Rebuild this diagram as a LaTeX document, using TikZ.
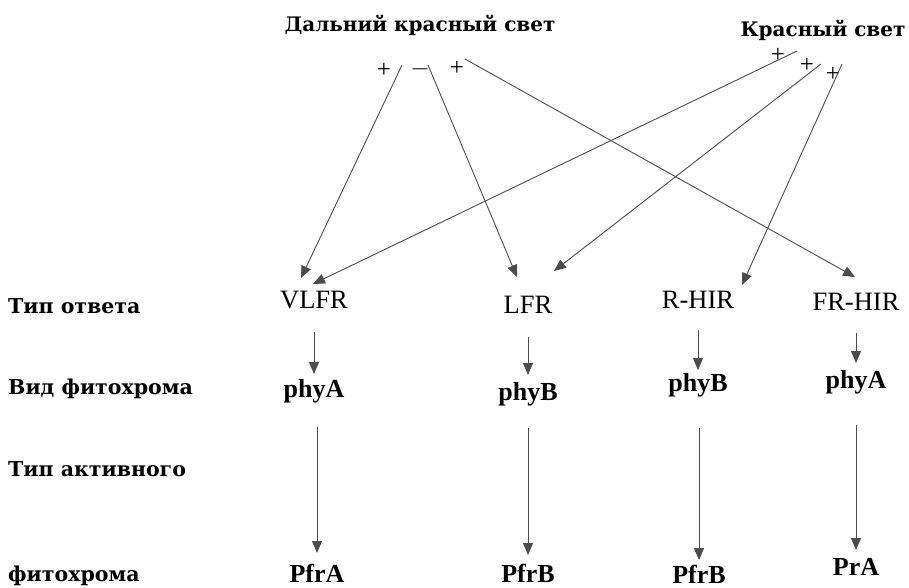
\documentclass[tikz,border=0pt]{standalone}
\usepackage{fontspec}
\setmainfont{Liberation Serif}
\newfontfamily\rufont{DejaVu Serif}
\usetikzlibrary{arrows.meta}

\begin{document}
\begin{tikzpicture}[x=1pt,y=-1pt,
    rowlbl/.style={anchor=base west, inner sep=0pt, font=\rufont\bfseries\fontsize{20.5}{20.5}\selectfont},
    toplbl/.style={anchor=base, inner sep=0pt, font=\rufont\bfseries\fontsize{20}{20}\selectfont},
    resp/.style={anchor=base, inner sep=0pt, font=\fontsize{26.5}{26.5}\selectfont},
    kind/.style={anchor=base, inner sep=0pt, font=\bfseries\fontsize{26}{26}\selectfont},
    sgn/.style={inner sep=0pt, font=\fontsize{25}{25}\selectfont},
    arr/.style={draw=black!70, line width=0.9pt, -{Triangle[length=12pt,width=10pt]}}]
    \useasboundingbox (0,0) rectangle (909,587);

    % light sources
    \node[toplbl] (far) at (420,31) {Дальний красный свет};
    \node[toplbl] (red) at (823,36) {Красный свет};

    % row labels
    \node[rowlbl] (row1) at (8,313) {Тип ответа};
    \node[rowlbl] (row2) at (8,394) {Вид фитохрома};
    \node[rowlbl] (row3) at (8,476) {Тип активного};
    \node[rowlbl] (row4) at (8,581) {фитохрома};

    % response types
    \node[resp] (vlfr) at (314,308) {VLFR};
    \node[resp] (lfr) at (528,313) {LFR};
    \node[resp] (rhir) at (698,308) {R-HIR};
    \node[resp] (frhir) at (856,310) {FR-HIR};

    % phytochromes
    \node[kind] (phyA1) at (314,397) {phyA};
    \node[kind] (phyB2) at (528,400) {phyB};
    \node[kind] (phyB3) at (698,391) {phyB};
    \node[kind] (phyA4) at (856,388) {phyA};

    % active forms
    \node[kind] (pfrA1) at (317,582) {PfrA};
    \node[kind] (pfrB2) at (528,582) {PfrB};
    \node[kind] (pfrB3) at (699,583) {PfrB};
    \node[kind] (prA4) at (856,575) {PrA};

    % signs
    \node[sgn] (s1) at (384,70) {+};
    \node[sgn] (s2) at (420,69) {$-$};
    \node[sgn] (s3) at (457,68) {+};
    \node[sgn] (s4) at (778,55) {+};
    \node[sgn] (s5) at (807,65) {+};
    \node[sgn] (s6) at (833,74) {+};

    \coordinate (fA) at (402,65);
    \coordinate (fB) at (428,65);
    \coordinate (fC) at (465,59);
    \coordinate (rA) at (797,51);
    \coordinate (rB) at (821,64);
    \coordinate (rC) at (842,64);

    \draw[arr] (fA) -- ([xshift=-13pt,yshift=30pt]vlfr.base);
    \draw[arr] (rA) -- ([xshift=-1pt,yshift=24pt]vlfr.base);
    \draw[arr] (fB) -- ([xshift=-11pt,yshift=36pt]lfr.base);
    \draw[arr] (rB) -- ([xshift=26pt,yshift=42pt]lfr.base);
    \draw[arr] (rC) -- ([xshift=44pt,yshift=23pt]rhir.base);
    \draw[arr] (fC) -- ([xshift=-1pt,yshift=33pt]frhir.base);

    \draw[arr] ([yshift=-24pt]vlfr.base) -- ([yshift=23pt]phyA1.base);
    \draw[arr] ([yshift=-24pt]lfr.base) -- ([yshift=25pt]phyB2.base);
    \draw[arr] ([yshift=-22pt]rhir.base) -- ([yshift=21pt]phyB3.base);
    \draw[arr] ([yshift=-23pt]frhir.base) -- ([yshift=25pt]phyA4.base);

    \draw[arr] ([xshift=3pt,yshift=-30pt]phyA1.base) -- ([yshift=29pt]pfrA1.base);
    \draw[arr] ([yshift=-28pt]phyB2.base) -- ([yshift=27pt]pfrB2.base);
    \draw[arr] ([xshift=1pt,yshift=-37pt]phyB3.base) -- ([yshift=23pt]pfrB3.base);
    \draw[arr] ([yshift=-37pt]phyA4.base) -- ([yshift=25pt]prA4.base);
\end{tikzpicture}
\end{document}
